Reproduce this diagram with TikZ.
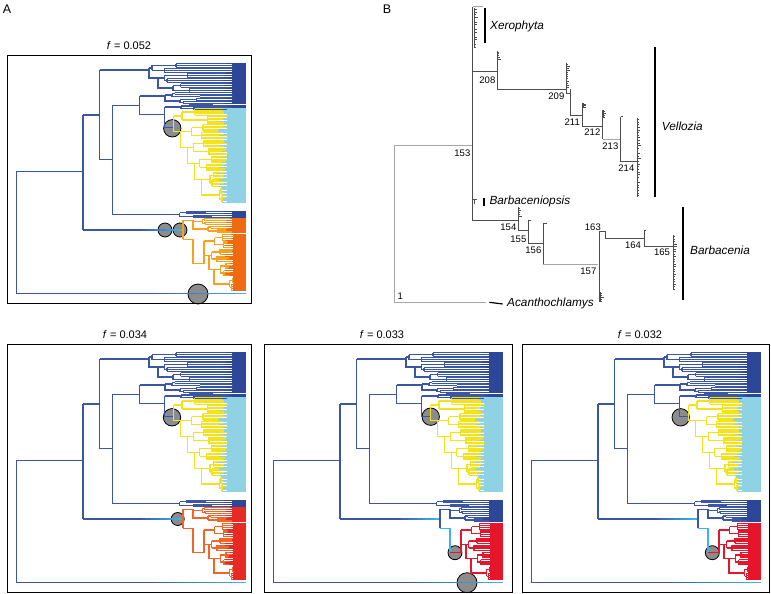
\documentclass[tikz,border=0pt]{standalone}
\usepackage{fontspec}
\setmainfont{Liberation Sans}
\usepackage{tikz}
\usetikzlibrary{calc}
\definecolor{RateBlue}{HTML}{3A56A5}
\definecolor{RateNavy}{HTML}{2C4698}
\definecolor{RateSky}{HTML}{3DB4EA}
\definecolor{RateSkyTip}{HTML}{8ED2E3}
\definecolor{RateYellow}{HTML}{F4E31A}
\definecolor{RateOrange}{HTML}{F7A11E}
\definecolor{RateOrangeTip}{HTML}{F06A12}
\definecolor{RateRedOrange}{HTML}{F2652A}
\definecolor{RateRedTip}{HTML}{E82A24}
\definecolor{RateRed}{HTML}{E5162C}
\definecolor{ShiftGrey}{HTML}{8C8C8C}
\definecolor{TreeDark}{HTML}{4D4D4D}
\definecolor{TreeLight}{HTML}{A6A6A6}

\tikzset{
  branch/.style={line width=1.4pt},
  tipline/.style={line width=1.2pt},
  panelbox/.style={draw=black,line width=0.9pt},
  shiftdot/.style={fill=ShiftGrey,draw=black,line width=0.8pt},
  ftitle/.style={font=\fontsize{11}{13}\selectfont},
  bline/.style={draw=TreeDark,line width=0.7pt},
  gline/.style={draw=TreeLight,line width=0.8pt},
  tickline/.style={draw=TreeDark,line width=0.4pt},
  cladebar/.style={draw=black,line width=1.6pt},
  nodenum/.style={font=\fontsize{9.5}{10}\selectfont,inner sep=0.5pt,anchor=east},
  cladename/.style={font=\fontsize{11.8}{13}\selectfont\itshape,inner sep=0pt,anchor=west},
}

% clade: stem x, stem y, root x, top y, bottom y, subclades, tips per half, branch colour, tip colour
% all segments of one colour are gathered into one path
\newcommand{\clade}[9]{%
  \pgfmathsetmacro{\cladeh}{(#5-#4)/#6}%
  \pgfmathsetmacro{\cladetop}{#4+0.5*\cladeh}%
  \xdef\branchpath{(#1,#2) -- (#3,#2) -- (#3,\cladetop)}%
  \gdef\tippath{}\gdef\overpath{}%
  \foreach \j in {1,...,#6}{%
    \pgfmathsetmacro{\ya}{#4+(\j-1)*\cladeh}%
    \pgfmathsetmacro{\ym}{\ya+0.5*\cladeh}%
    \pgfmathsetmacro{\yn}{\ym+\cladeh}%
    \pgfmathsetmacro{\xj}{#3+(\j-1)*\cladestep}%
    \pgfmathsetmacro{\xn}{\xj+\cladestep}%
    \pgfmathsetmacro{\xs}{\xj+2+10*rnd}%
    \pgfmathsetmacro{\yq}{\ya+0.25*\cladeh}%
    \pgfmathsetmacro{\yr}{\ya+0.75*\cladeh}%
    \ifnum\j<#6\relax
      \xdef\branchpath{\branchpath (\xj,\ym) -- (\xj,\yn) -- (\xn,\yn)}%
    \fi
    \xdef\branchpath{\branchpath (\xj,\ym) -- (\xs,\ym) (\xs,\yq) -- (\xs,\yr)}%
    \foreach \h in {0,1}{%
      \pgfmathsetmacro{\yb}{\ya+0.5*\h*\cladeh}%
      \pgfmathsetmacro{\yh}{\yb+0.25*\cladeh}%
      \pgfmathsetmacro{\xh}{\xs+1+max(\tipfade-\xs,4)*0.6*rnd}%
      \pgfmathsetmacro{\dy}{0.5*\cladeh/#7}%
      \pgfmathsetmacro{\yc}{\yb+0.5*\dy}%
      \pgfmathsetmacro{\yd}{\yb+0.5*\cladeh-0.5*\dy}%
      \xdef\branchpath{\branchpath (\xs,\yh) -- (\xh,\yh) (\xh,\yc) -- (\xh,\yd)}%
      \foreach \k in {1,...,#7}{%
        \pgfmathsetmacro{\yk}{\yb+(\k-0.5)*\dy}%
        \pgfmathsetmacro{\xo}{max(\xh,\tipfade-5+10*rnd)}%
        \xdef\tippath{\tippath (\xh,\yk) -- (\tipend,\yk)}%
        \xdef\overpath{\overpath (\xh,\yk) -- (\xo,\yk)}%
      }%
    }%
  }%
  \edef\cladecmd{%
    \noexpand\fill[#9] (\tipfade+4,#4) rectangle (\tipend,#5);
    \noexpand\draw[tipline,draw=#9] \tippath;
    \noexpand\draw[tipline,draw=#8] \overpath;
    \noexpand\draw[branch,draw=#8] \branchpath;}%
  \cladecmd
}

% blue branch fading into light blue: x from, x to, y
\newcommand{\fadeline}[3]{%
  \foreach \s in {0,...,9}{%
    \pgfmathtruncatemacro{\p}{\s*11}%
    \draw[branch,draw=RateSky!\p!RateBlue] ({#1+\s*(#2-#1)/10},#3) -- ({#1+(\s+1)*(#2-#1)/10},#3);
  }%
}

% one rate tree: B3 branch, B3 tips, link colour, lower clade branch, lower clade tips
\newcommand{\vtree}[5]{%
  \pgfmathsetseed{1234}%
  \def\tipend{239}%
  \draw[branch,draw=RateBlue] (9.3,238.7) -- (9.3,116.7) -- (76,116.7) (76,60) -- (76,175)
    (76,60) -- (92.7,60) (92.7,15) -- (92.7,104.3) -- (105.3,104.3)
    (105.3,50.3) -- (105.3,159.3) (105.3,50.3) -- (132.7,50.3)
    (132.7,41) -- (132.7,59.3) -- (157.7,59.3) (157.7,52) -- (157.7,72.7) -- (166.7,72.7)
    (9.3,238.7) -- (140,238.7) (76,175) -- (130,175);
  \fadeline{140}{239}{238.7}
  \fadeline{130}{176}{175}
  \def\cladestep{9}\def\tipfade{221}%
  \clade{92.7}{15}{142}{8}{38}{3}{3}{RateBlue}{RateNavy}%
  \def\cladestep{5}%
  \clade{132.7}{41}{158}{37}{49}{2}{2}{RateBlue}{RateNavy}%
  \clade{157.7}{52}{174}{49.5}{55}{2}{1}{RateBlue}{RateNavy}%
  \clade{105.3}{159.3}{172.7}{156}{163}{2}{1}{RateBlue}{RateNavy}%
  \def\cladestep{7}\def\tipfade{216}%
  \clade{166.7}{72.7}{166.7}{53}{148}{6}{5}{RateYellow}{RateSkyTip}%
  % lower subtree
  \draw[branch,draw=#1] (176,165.3) -- (176,184.3);
  \def\cladestep{5}\def\tipfade{221}%
  \clade{176}{165.3}{186}{162.5}{178}{2}{2}{#1}{#2}%
  \draw[branch,draw=#3] (176,184.3) -- (186,184.3) -- (186,208.7);
  \def\cladestep{5}\def\tipfade{222}%
  \clade{186}{208.7}{197}{179}{236}{4}{4}{#4}{#5}%
}

% small tip marks of the dated tree
\newcommand{\tipcomb}[4]{%
  \draw[tickline] (#1,#2) -- (#1,#3);
  \foreach \t in {1,...,#4}{%
    \pgfmathsetmacro{\ty}{#2+(\t-0.5)*(#3-#2)/#4}%
    \draw[tickline] (#1,\ty) -- ++(1.2+2.5*rnd,0);
  }%
}

\begin{document}
\begin{tikzpicture}[x=1pt,y=-1pt]
  \useasboundingbox (0,0) rectangle (771,594);
  \node[font=\fontsize{12.5}{14}\selectfont] (labA) at (7,9) {A};
  \node[font=\fontsize{12.5}{14}\selectfont] (labB) at (387,9) {B};

  % panel A
  \node[ftitle] (tA) at (129,46) {\textit{f} = 0.052};
  \begin{scope}[shift={(7,55)}]
    \draw[shiftdot] (158,175) circle (7pt);
    \draw[shiftdot] (173,175) circle (7pt);
    \draw[shiftdot] (165.3,73.3) circle (8.7pt);
    \draw[shiftdot] (191,239) circle (10pt);
    \vtree{RateOrange}{RateOrangeTip}{RateOrange}{RateOrange}{RateOrangeTip}
    \draw[panelbox] (0,0) rectangle (244,248);
  \end{scope}

  % bottom row
  \node[ftitle] (tB) at (125,334.5) {\textit{f} = 0.034};
  \begin{scope}[shift={(7,344)}]
    \draw[shiftdot] (165,73.3) circle (8.7pt);
    \draw[shiftdot] (170.7,175) circle (6.5pt);
    \vtree{RateRedOrange}{RateRedTip}{RateRedOrange}{RateRedOrange}{RateRedTip}
    \draw[panelbox] (0,0) rectangle (244,248);
  \end{scope}

  \node[ftitle] (tC) at (382,334.5) {\textit{f} = 0.033};
  \begin{scope}[shift={(264,344)}]
    \draw[shiftdot] (166.7,72.7) circle (8.7pt);
    \draw[shiftdot] (191,208.7) circle (7pt);
    \draw[shiftdot] (203,238.7) circle (10pt);
    \vtree{RateBlue}{RateNavy}{RateSky}{RateRed}{RateRed}
    \draw[panelbox] (0,0) rectangle (248,248);
  \end{scope}

  \node[ftitle] (tD) at (640,334.5) {\textit{f} = 0.032};
  \begin{scope}[shift={(522,344)}]
    \draw[shiftdot] (158.7,73.3) circle (8.7pt);
    \draw[shiftdot] (190.3,208.7) circle (7pt);
    \vtree{RateBlue}{RateNavy}{RateSky}{RateRed}{RateRed}
    \draw[panelbox] (0,0) rectangle (247,248);
  \end{scope}

  % panel B: dated tree
  \pgfmathsetseed{77}
  \draw[gline] (486,302.5) -- (394.3,302.5) -- (394.3,145.7) -- (472.5,145.7);
  \draw[bline] (472.5,6.7) -- (472.5,220) -- (518.3,220);
  \draw[gline] (472.5,6.7) -- (482.7,6.7);
  \tipcomb{474}{8}{48}{16}
  \draw[cladebar] (485,8.3) -- (485,43.3);
  \node[cladename] (xero) at (490,26) {Xerophyta};
  \draw[bline] (472.5,71) -- (497,71) (497,52) -- (497,89.3) -- (566,89.3);
  \tipcomb{497.5}{51}{60}{5}
  \node[nodenum] (n208) at (496,80) {208};
  \draw[bline] (566,63) -- (566,93) -- (570,93) (570,89.3) -- (570,115) -- (582.7,115);
  \tipcomb{566.5}{63}{88}{12}
  \node[nodenum] (n209) at (565,96.7) {209};
  \draw[bline] (582.7,103) -- (582.7,126) -- (602.7,126);
  \tipcomb{583}{103}{108}{3}
  \node[nodenum] (n211) at (580.5,121.7) {211};
  \draw[bline] (602.7,110) -- (602.7,139.3);
  \draw[gline] (602.7,139.3) -- (620.7,139.3);
  \tipcomb{603}{110}{118}{4}
  \node[nodenum] (n212) at (601,131.7) {212};
  \draw[bline] (620.7,116.7) -- (620.7,161.7) -- (636.7,161.7) (620.7,116.7) -- (623,116.7);
  \node[nodenum] (n213) at (619,146.7) {213};
  \tipcomb{637}{118}{196.7}{30}
  \node[nodenum] (n214) at (635,168.3) {214};
  \draw[cladebar] (655,46.7) -- (655,196.7);
  \node[cladename] (vell) at (661.7,126.7) {Vellozia};
  \node[nodenum] (n153) at (471,153) {153};
  \draw[bline] (472.5,199.5) -- (477,199.5) (474.5,199.5) -- (474.5,204);
  \draw[cladebar] (484,198) -- (484,205.5);
  \node[cladename] (barbo) at (489.3,201.7) {Barbaceniopsis};
  \draw[bline] (518.3,210) -- (518.3,230) -- (528.3,230);
  \tipcomb{518.6}{207}{217}{5}
  \node[nodenum] (n154) at (517,227.3) {154};
  \draw[bline] (528.3,220) -- (528.3,243.3) -- (543.3,243.3) (528.3,220) -- (530.5,220);
  \node[nodenum] (n155) at (527,239) {155};
  \draw[bline] (543.3,223.3) -- (543.3,264) (543.3,223.3) -- (547,223.3);
  \draw[gline] (543.3,264) -- (598.3,264);
  \node[nodenum] (n156) at (542,250.7) {156};
  \draw[bline] (599.3,231.7) -- (599.3,301.7) (599.3,231.7) -- (605,231.7) -- (605,238.3) -- (644,238.3);
  \tipcomb{600}{291.7}{301.7}{5}
  \node[nodenum] (n157) at (597,271.7) {157};
  \node[nodenum] (n163) at (601.5,227.5) {163};
  \draw[bline] (644,230) -- (644,246.7) -- (672.7,246.7) (644,230) -- (646,230);
  \node[nodenum] (n164) at (641.7,245.7) {164};
  \tipcomb{673}{235}{290}{22}
  \node[nodenum] (n165) at (670.7,252.3) {165};
  \draw[cladebar] (682.7,206.7) -- (682.7,300);
  \node[cladename] (barba) at (690,250.7) {Barbacenia};
  \node[nodenum,anchor=west] (n1) at (397,296.5) {1};
  \draw[line width=1.2pt] (489.3,302.3) -- (502.7,304);
  \node[cladename] (acan) at (507,303.5) {Acanthochlamys};
\end{tikzpicture}
\end{document}
